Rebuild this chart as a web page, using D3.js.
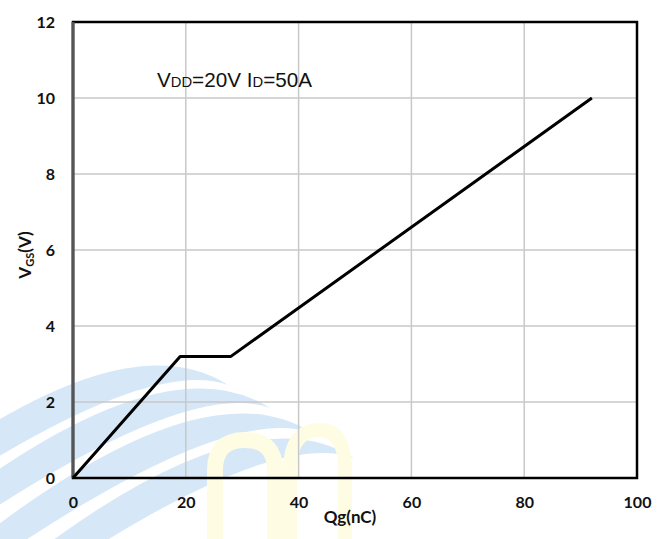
<!DOCTYPE html>
<html>
<head>
<meta charset="utf-8">
<script src="https://d3js.org/d3.v7.min.js"></script>
<style>
  body { margin: 0; background: #fff; }
  svg { display: block; }
</style>
</head>
<body>
<div id="chart"></div>
<script>
// gate charge curve
var qg = [0, 19, 28, 92];
var vgs = [0, 3.2, 3.2, 10];
var xTicks = [0, 20, 40, 60, 80, 100];
var yTicks = [0, 2, 4, 6, 8, 10, 12];

var W = 672, H = 539;
var mLeft = 73, mRight = 637, mTop = 22, mBottom = 478;

var svg = d3.select("#chart").append("svg")
	.attr("width", W)
	.attr("height", H);

var x = d3.scaleLinear().domain([0, 100]).range([mLeft, mRight]);
var y = d3.scaleLinear().domain([0, 12]).range([mBottom, mTop]);

// faint logo watermark behind the chart
var wm = svg.append("g");
var peaks = [[150, 345], [192, 368], [234, 393], [276, 418]];
peaks.forEach(function(p){
	var px = p[0], py = p[1];
	wm.append("path")
		.attr("d", "M" + (px - 260) + "," + (py + 150) +
			" Q" + (px - 30) + "," + (py - 30) + " " + (px + 78) + "," + (py + 40) +
			" Q" + (px - 10) + "," + (py + 8) + " " + (px - 260) + "," + (py + 182) + " Z")
		.attr("fill", "#d6e7f7");
});
wm.append("path")
	.attr("d", "M215,539 L215,470 Q215,440 245,440 Q275,440 275,470 L275,539")
	.attr("fill", "none")
	.attr("stroke", "#fefde4")
	.attr("stroke-width", 16);
wm.append("path")
	.attr("d", "M290,539 L290,470 Q290,430 320,430 Q345,430 345,470 L345,539")
	.attr("fill", "none")
	.attr("stroke", "#fefde4")
	.attr("stroke-width", 14);

// grid
svg.append("g")
	.selectAll("line")
	.data(xTicks.slice(1, -1))
	.enter().append("line")
	.attr("x1", function(d){ return x(d); })
	.attr("x2", function(d){ return x(d); })
	.attr("y1", mTop)
	.attr("y2", mBottom)
	.attr("stroke", "#c8c8c8")
	.attr("stroke-width", 1.5);

svg.append("g")
	.selectAll("line")
	.data(yTicks.slice(1, -1))
	.enter().append("line")
	.attr("x1", mLeft)
	.attr("x2", mRight)
	.attr("y1", function(d){ return y(d); })
	.attr("y2", function(d){ return y(d); })
	.attr("stroke", "#c8c8c8")
	.attr("stroke-width", 1.5);

// frame
svg.append("rect")
	.attr("x", mLeft)
	.attr("y", mTop)
	.attr("width", mRight - mLeft)
	.attr("height", mBottom - mTop)
	.attr("fill", "none")
	.attr("stroke", "#000")
	.attr("stroke-width", 2.5);

svg.append("line")
	.attr("x1", mLeft).attr("x2", mLeft)
	.attr("y1", mTop).attr("y2", mBottom)
	.attr("stroke", "#555")
	.attr("stroke-width", 3);

// axes, labels only
var xAxis = d3.axisBottom(x).tickValues(xTicks).tickSize(0).tickPadding(19);
var yAxis = d3.axisLeft(y).tickValues(yTicks).tickSize(0).tickPadding(18);

var gx = svg.append("g")
	.attr("transform", "translate(0," + mBottom + ")")
	.call(xAxis);
var gy = svg.append("g")
	.attr("transform", "translate(" + mLeft + ",0)")
	.call(yAxis);

[gx, gy].forEach(function(g){
	g.select(".domain").remove();
	g.selectAll("text")
		.attr("fill", "#111")
		.style("font-family", "Lato, 'Open Sans', sans-serif")
		.style("font-weight", "bold")
		.style("font-size", "16px");
});

// curve
var line = d3.line()
	.x(function(d){ return x(d[0]); })
	.y(function(d){ return y(d[1]); });

svg.append("path")
	.datum(d3.zip(qg, vgs))
	.attr("d", line)
	.attr("fill", "none")
	.attr("stroke", "#000")
	.attr("stroke-width", 3)
	.attr("stroke-linejoin", "round");

// axis titles
svg.append("text")
	.attr("x", 350)
	.attr("y", 523)
	.attr("text-anchor", "middle")
	.style("font-family", "Lato, 'Open Sans', sans-serif")
	.style("font-weight", "bold")
	.style("font-size", "17px")
	.attr("fill", "#111")
	.text("Qg(nC)");

var yl = svg.append("text")
	.attr("transform", "translate(31,255) rotate(-90)")
	.attr("text-anchor", "middle")
	.style("font-family", "Lato, 'Open Sans', sans-serif")
	.style("font-weight", "bold")
	.style("font-size", "17px")
	.attr("fill", "#111");
yl.append("tspan").text("V");
yl.append("tspan").text("GS").style("font-size", "11px").attr("dy", 3);
yl.append("tspan").text("(V)").attr("dy", -3);

// condition note
var note = svg.append("text")
	.attr("x", 157)
	.attr("y", 87)
	.attr("textLength", 155)
	.attr("lengthAdjust", "spacingAndGlyphs")
	.style("font-family", "'Liberation Sans', Arial, sans-serif")
	.style("font-size", "21px")
	.attr("fill", "#111");
note.append("tspan").text("V");
note.append("tspan").text("DD").style("font-size", "15px");
note.append("tspan").text("=20V I");
note.append("tspan").text("D").style("font-size", "15px");
note.append("tspan").text("=50A");
</script>
</body>
</html>
